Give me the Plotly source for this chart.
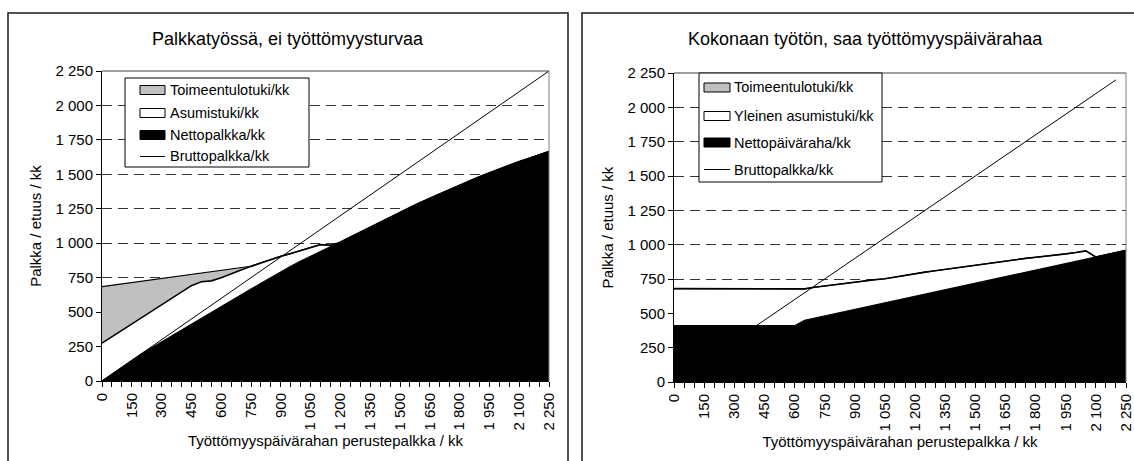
import plotly.graph_objects as go

# ---------------- data ----------------
x_cat = [0, 50, 100, 150, 200, 250, 300, 350, 400, 450, 500, 550, 600, 650, 700, 750,
         800, 850, 900, 950, 1000, 1050, 1100, 1150, 1200, 1250, 1300, 1350, 1400, 1450,
         1500, 1550, 1600, 1650, 1700, 1750, 1800, 1850, 1900, 1950, 2000, 2050, 2100,
         2150, 2200, 2250]

# Left chart: Palkkatyössä, ei työttömyysturvaa
left_netto = [0, 50, 100, 150, 198, 242, 285, 328, 371, 414, 457, 499, 541, 583, 625, 667,
              709, 751, 793, 833, 870, 905, 940, 972, 1005, 1043, 1080, 1116, 1152, 1188,
              1224, 1259, 1293, 1326, 1358, 1390, 1421, 1452, 1482, 1511, 1539, 1566, 1592,
              1617, 1641, 1665]
left_asumistuki = [275, 272, 269, 266, 265, 268, 272, 276, 279, 278, 263, 228, 209, 192, 180, 165,
                   149, 132, 112, 92, 75, 60, 50, 13, 0, 0, 0, 0, 0, 0,
                   0, 0, 0, 0, 0, 0, 0, 0, 0, 0, 0, 0, 0, 0, 0, 0]
left_toimeentulotuki = [410, 373, 336, 299, 262, 225, 188, 151, 115, 83, 65, 68, 55, 40, 20, 1,
                        0, 0, 0, 0, 0, 0, 0, 0, 0, 0, 0, 0, 0, 0,
                        0, 0, 0, 0, 0, 0, 0, 0, 0, 0, 0, 0, 0, 0, 0, 0]
left_brutto = [0, 50, 100, 150, 200, 250, 300, 350, 400, 450, 500, 550, 600, 650, 700, 750,
               800, 850, 900, 950, 1000, 1050, 1100, 1150, 1200, 1250, 1300, 1350, 1400, 1450,
               1500, 1550, 1600, 1650, 1700, 1750, 1800, 1850, 1900, 1950, 2000, 2050, 2100,
               2150, 2200, 2250]

# Right chart: Kokonaan työtön, saa työttömyyspäivärahaa
right_netto = [410, 410, 410, 410, 410, 410, 410, 410, 410, 410, 410, 410, 410, 450, 466, 482,
               498, 514, 529, 545, 561, 577, 593, 609, 625, 640, 656, 672, 688, 704,
               720, 736, 752, 767, 783, 799, 815, 831, 847, 863, 878, 894, 910,
               926, 942, 958]
right_asumistuki = [270, 270, 270, 270, 270, 270, 270, 270, 270, 270, 270, 270, 268, 228, 224, 218,
                    212, 206, 201, 195, 184, 175, 172, 169, 165, 160, 154, 148, 145, 141,
                    132, 126, 120, 116, 110, 101, 93, 84, 76, 70, 65, 61, 0,
                    0, 0, 0]
right_toimeentulotuki = [0] * 46
right_brutto = [0, 50, 100, 150, 200, 250, 300, 350, 400, 450, 500, 550, 600, 650, 700, 750,
                800, 850, 900, 950, 1000, 1050, 1100, 1150, 1200, 1250, 1300, 1350, 1400, 1450,
                1500, 1550, 1600, 1650, 1700, 1750, 1800, 1850, 1900, 1950, 2000, 2050, 2100,
                2150, 2200, None]

x_tickvals = [0, 150, 300, 450, 600, 750, 900, 1050, 1200, 1350, 1500, 1650, 1800, 1950, 2100, 2250]
x_ticktext = ["0", "150", "300", "450", "600", "750", "900", "1 050", "1 200", "1 350",
              "1 500", "1 650", "1 800", "1 950", "2 100", "2 250"]
y_tickvals = [0, 250, 500, 750, 1000, 1250, 1500, 1750, 2000, 2250]
y_ticktext = ["0", "250", "500", "750", "1 000", "1 250", "1 500", "1 750", "2 000", "2 250"]

left_names = ["Toimeentulotuki/kk", "Asumistuki/kk", "Nettopalkka/kk", "Bruttopalkka/kk"]
right_names = ["Toimeentulotuki/kk", "Yleinen asumistuki/kk", "Nettopäiväraha/kk", "Bruttopalkka/kk"]
series_fill = ["#C0C0C0", "#FFFFFF", "#000000", None]
titles = ["Palkkatyössä, ei työttömyysturvaa", "Kokonaan työtön, saa työttömyyspäivärahaa"]
x_title = "Työttömyyspäivärahan perustepalkka / kk"
y_title = "Palkka / etuus / kk"

# ---------------- figure ----------------
W, H = 1134, 461
FONT = "Arial, 'Liberation Sans', sans-serif"
FS = 15
LEG_FS = 14.5
TITLE_FS = 18

fig = go.Figure()


def add_panel(netto, asum, toim, brutto, names, xa, ya, sg):
    common = dict(x=x_cat, xaxis=xa, yaxis=ya, stackgroup=sg, mode="lines",
                  hoverinfo="skip", showlegend=False)
    fig.add_trace(go.Scatter(y=netto, name=names[2], fillcolor=series_fill[2],
                             line=dict(color="#000000", width=1.2), **common))
    fig.add_trace(go.Scatter(y=asum, name=names[1], fillcolor=series_fill[1],
                             line=dict(color="#000000", width=1.6), **common))
    fig.add_trace(go.Scatter(y=toim, name=names[0], fillcolor=series_fill[0],
                             line=dict(color="#000000", width=1.2), **common))
    fig.add_trace(go.Scatter(x=x_cat, y=brutto, name=names[3], xaxis=xa, yaxis=ya,
                             mode="lines", line=dict(color="#000000", width=1),
                             hoverinfo="skip", showlegend=False))


add_panel(left_netto, left_asumistuki, left_toimeentulotuki, left_brutto,
          left_names, "x", "y", "L")
add_panel(right_netto, right_asumistuki, right_toimeentulotuki, right_brutto,
          right_names, "x2", "y2", "R")

# plot-area pixel boxes (left, right, top, bottom)
L_box = (102, 549, 71, 381)
R_box = (674, 1126, 73, 382)


def xdom(b):
    return [b[0] / W, b[1] / W]


def ydom(b):
    return [1 - b[3] / H, 1 - b[2] / H]


def px(v):
    return v / W


def py(v):
    return 1 - v / H


axis_font = dict(family=FONT, size=FS, color="#000000")
xcommon = dict(range=[0, 2250], tickmode="array", tickvals=x_tickvals, ticktext=x_ticktext,
               tickangle=-90, ticks="outside", ticklen=5, tickcolor="#000000",
               showline=True, linecolor="#000000", linewidth=1, showgrid=False,
               zeroline=False, tickfont=axis_font, fixedrange=True, automargin=False,
               ticklabeloverflow="allow",
               minor=dict(dtick=50, tick0=0, ticks="outside", ticklen=5, tickcolor="#000000",
                          showgrid=False),
               title=dict(text=x_title, font=dict(family=FONT, size=FS, color="#000000"),
                          standoff=5))
ycommon = dict(range=[0, 2250], tickmode="array", tickvals=y_tickvals, ticktext=y_ticktext,
               ticks="outside", ticklen=5, tickcolor="#000000",
               showline=True, linecolor="#000000", linewidth=1,
               showgrid=True, gridcolor="#333333", gridwidth=1, griddash="10px,6px",
               zeroline=False, tickfont=axis_font, fixedrange=True, automargin=False,
               ticklabeloverflow="allow",
               title=dict(text=y_title, font=dict(family=FONT, size=FS, color="#000000"),
                          standoff=10))

fig.update_layout(
    width=W, height=H, autosize=False,
    margin=dict(l=0, r=0, t=0, b=0, autoexpand=False),
    paper_bgcolor="#FFFFFF", plot_bgcolor="#FFFFFF",
    font=dict(family=FONT, size=FS, color="#000000"),
    xaxis=dict(domain=xdom(L_box), anchor="y", **xcommon),
    yaxis=dict(domain=ydom(L_box), anchor="x", **ycommon),
    xaxis2=dict(domain=xdom(R_box), anchor="y2", **xcommon),
    yaxis2=dict(domain=ydom(R_box), anchor="x2", **ycommon),
    showlegend=False,
)

shapes = []
# panel borders
for (x0, x1) in [(8, 568), (582, 1148)]:
    shapes.append(dict(type="rect", xref="paper", yref="paper", x0=px(x0), x1=px(x1),
                       y0=py(475), y1=py(13), line=dict(color="#1a1a1a", width=1.5),
                       fillcolor="rgba(0,0,0,0)", layer="below"))
# plot area top/right border
for b in [L_box, R_box]:
    shapes.append(dict(type="line", xref="paper", yref="paper", x0=px(b[0]), x1=px(b[1]),
                       y0=py(b[2]), y1=py(b[2]), line=dict(color="#404040", width=1),
                       layer="above"))
    shapes.append(dict(type="line", xref="paper", yref="paper", x0=px(b[1]), x1=px(b[1]),
                       y0=py(b[3]), y1=py(b[2]), line=dict(color="#808080", width=1),
                       layer="above"))

# manual legends: (box, swatch x0, swatch x1, text x, row centres, names)
legends = [
    ((125, 309, 78, 167), 140, 165, 168, [90, 113, 135, 156.5], left_names),
    ((699, 882, 73, 182), 704, 730, 732, [87.5, 116, 142.5, 169.5], right_names),
]
annotations = []
for box, sx0, sx1, tx, rows, names in legends:
    shapes.append(dict(type="rect", xref="paper", yref="paper", x0=px(box[0]), x1=px(box[1]),
                       y0=py(box[3]), y1=py(box[2]), line=dict(color="#000000", width=1),
                       fillcolor="#FFFFFF", layer="above"))
    for name, fc, ry in zip(names, series_fill, rows):
        if fc is not None:
            shapes.append(dict(type="rect", xref="paper", yref="paper", x0=px(sx0), x1=px(sx1),
                               y0=py(ry + 4.5), y1=py(ry - 4.5),
                               line=dict(color="#000000", width=1), fillcolor=fc, layer="above"))
        else:
            shapes.append(dict(type="line", xref="paper", yref="paper", x0=px(sx0), x1=px(sx1),
                               y0=py(ry), y1=py(ry), line=dict(color="#000000", width=1),
                               layer="above"))
        annotations.append(dict(text=name, xref="paper", yref="paper", x=px(tx), y=py(ry),
                                xanchor="left", yanchor="middle", showarrow=False,
                                font=dict(family=FONT, size=LEG_FS, color="#000000")))

# panel titles
annotations.append(dict(text=titles[0], xref="paper", yref="paper", x=px(288), y=py(39),
                        showarrow=False, font=dict(family=FONT, size=TITLE_FS, color="#000000"),
                        xanchor="center", yanchor="middle"))
annotations.append(dict(text=titles[1], xref="paper", yref="paper", x=px(865), y=py(39),
                        showarrow=False, font=dict(family=FONT, size=TITLE_FS, color="#000000"),
                        xanchor="center", yanchor="middle"))
fig.update_layout(shapes=shapes, annotations=annotations)

fig.write_html("out.html", config={"displayModeBar": False, "staticPlot": True},
               post_script="document.body.style.margin='0';document.body.style.overflow='hidden';")
